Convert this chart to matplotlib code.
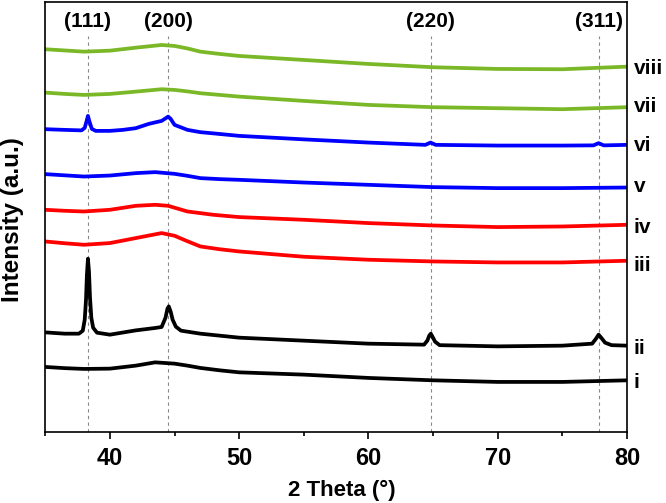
import matplotlib
matplotlib.use("Agg")
import matplotlib.pyplot as plt
from matplotlib.ticker import MultipleLocator

plt.rcParams['font.family'] = ['Liberation Sans', 'DejaVu Sans']
plt.rcParams['font.weight'] = 'bold'

# XRD patterns, values (arbitrary units, stacked)
x_i = [35, 36.5, 38, 40, 42, 43.5, 45, 46, 47, 48.5, 50, 55, 60, 65, 70, 75, 80]
y_i = [64.7, 63.5, 62.7, 63, 66, 69.3, 68, 66, 63.7, 61.3, 59.3, 57, 53.7, 51.3, 49.7, 49.7, 51.3]

x_ii = [35, 36.5, 37.6, 37.9, 38.05, 38.15, 38.22, 38.3, 38.38, 38.46, 38.56, 38.7, 39.0, 39.5,
        40, 42, 43.5, 44.0, 44.3, 44.45, 44.55, 44.7, 44.85, 45.1, 45.5, 47, 50, 55, 60,
        64.3, 64.55, 64.7, 64.82, 64.95, 65.15, 65.5, 70, 75,
        77.3, 77.6, 77.8, 78.0, 78.3, 78.8, 80]
y_ii = [99.3, 98, 98, 101, 112, 132, 157, 173, 160, 134, 114, 104, 99, 98,
        97, 101.3, 103.7, 104.7, 114, 123, 125.3, 120, 112, 105, 101, 98, 94, 91, 88,
        87, 91, 96, 98, 95, 90, 86.5, 85.3, 86,
        88, 93, 97, 94, 89, 86.5, 86]

x_iii = [35, 36.5, 38, 40, 42, 44, 45, 46, 47, 48.5, 50, 55, 60, 65, 70, 75, 80]
y_iii = [190.3, 188.5, 187, 188.7, 193.7, 198.7, 196, 190.5, 185.3, 182.5, 180.3, 175, 172, 170.3, 169.3, 169.3, 171]

x_iv = [35, 36.5, 38, 40, 42, 43.5, 44.5, 46, 48, 50, 55, 60, 65, 70, 75, 80]
y_iv = [222, 221, 220.3, 222, 226, 227, 226, 220.3, 217, 214.7, 212, 208.7, 206.3, 204.7, 205.3, 207]

x_v = [35, 36.5, 38, 40, 42, 43.5, 45, 46, 47, 48.5, 50, 55, 60, 65, 70, 75, 80]
y_v = [257.7, 256.5, 255.3, 256.3, 258.7, 259.7, 258, 256, 253.7, 252.7, 252, 249.3, 247, 244.7, 243.7, 243.7, 244.3]

x_vi = [35, 36.5, 37.8, 38.05, 38.2, 38.3, 38.4, 38.6, 38.9, 40, 41, 42, 43, 44, 44.3, 44.5,
        44.7, 45, 46, 47, 48, 50, 55, 60, 64.4, 64.8, 65.2, 70, 75, 77.4, 77.8, 78.2, 80]
y_vi = [302.7, 302, 301.5, 304, 311, 316, 311, 303, 301, 301, 302, 303.7, 308, 311, 313.5, 315.3,
        313, 307, 302, 299.7, 298.5, 296, 292.5, 289.3, 287, 289.3, 287, 286.3, 286.3, 286.5, 288.7, 286.5, 287]

x_vii = [35, 36.5, 38, 40, 42, 44, 45, 46, 47, 48.5, 50, 55, 60, 65, 70, 75, 80]
y_vii = [339.3, 338, 337, 338, 340.3, 342.7, 342, 340.5, 338.7, 337, 335.3, 331, 327, 324.7, 323.7, 322.7, 324.7]

x_viii = [35, 36.5, 38, 40, 42, 44, 45, 46, 47, 48.5, 50, 55, 60, 65, 70, 75, 80]
y_viii = [382.7, 381.5, 380.3, 381.3, 384.3, 387, 386, 383.5, 380.3, 378, 376, 372, 368, 364.7, 363, 362.7, 365.3]

curve_names = ["i", "ii", "iii", "iv", "v", "vi", "vii", "viii"]
curve_x = [x_i, x_ii, x_iii, x_iv, x_v, x_vi, x_vii, x_viii]
curve_y = [y_i, y_ii, y_iii, y_iv, y_v, y_vi, y_vii, y_viii]
curve_colors = ["black", "black", "#ff0000", "#ff0000", "#0000ff", "#0000ff", "#7ab828", "#7ab828"]
label_y = [49, 83, 166, 204, 245, 286, 325, 363]

# reflections
peak_pos = [38.3, 44.5, 64.8, 77.8]
peak_labels = ["(111)", "(200)", "(220)", "(311)"]

fig = plt.figure(figsize=(6.66, 5.03), dpi=100)
ax = fig.add_axes([0.068, 0.142, 0.8735, 0.855])

for xs, ys, c in zip(curve_x, curve_y, curve_colors):
    ax.plot(xs, ys, color=c, lw=2.7, solid_joinstyle='round')

ax.vlines(peak_pos, 0, 396, colors='#888888', linestyles=(0, (3, 3)), lw=0.8, zorder=0)
for p, lab in zip(peak_pos, peak_labels):
    ax.text(p, 410, lab, ha='center', va='center', fontsize=15, fontweight='bold')

for name, ly in zip(curve_names, label_y):
    ax.text(80.5, ly, name, ha='left', va='center', fontsize=15, fontweight='bold', clip_on=False)

ax.set_xlim(35, 80)
ax.set_ylim(0, 430.5)
ax.set_yticks([])
ax.xaxis.set_major_locator(MultipleLocator(10))
ax.xaxis.set_minor_locator(MultipleLocator(5))
ax.tick_params(axis='x', which='major', direction='out', length=5, width=1.2, labelsize=17, pad=6)
ax.tick_params(axis='x', which='minor', direction='out', length=3, width=1.2)
for s in ax.spines.values():
    s.set_linewidth(1.2)

fig.text(342 / 666, 1 - 490.5 / 503, "2 Theta (°)", ha='center', va='center', fontsize=16, fontweight='bold')
fig.text(13 / 666, 1 - 220 / 503, "Intensity (a.u.)", ha='center', va='center', rotation=90,
         fontsize=17.5, fontweight='bold')

fig.savefig("out.png", dpi=100)
